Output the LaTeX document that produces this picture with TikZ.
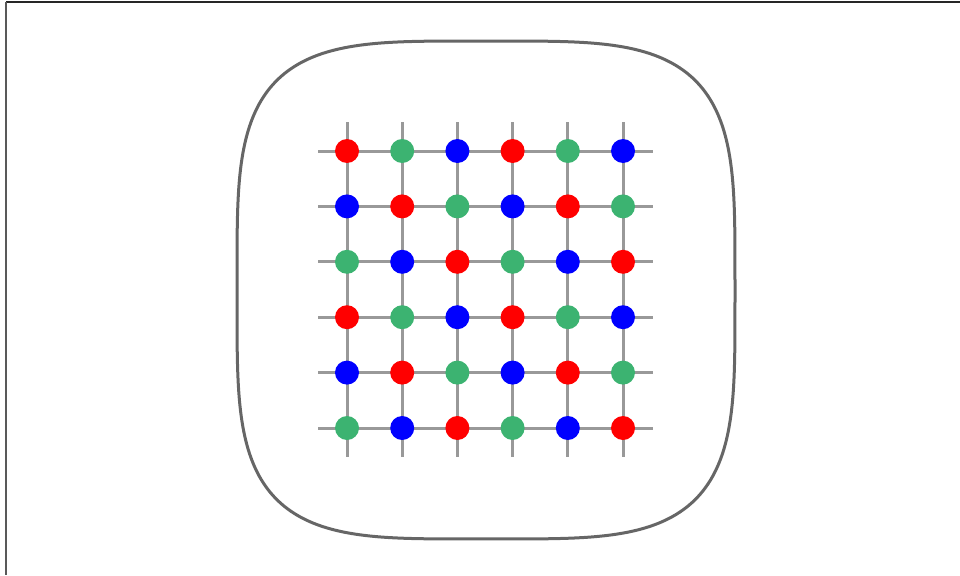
\documentclass[tikz,border=0pt]{standalone}
\begin{document}
\begin{tikzpicture}[x=1pt,y=-1pt,
  gridline/.style={draw=black!40, line width=3pt},
  dot/.style={circle, inner sep=0pt, minimum size=24pt},
  frameline/.style={draw=black!60, line width=3pt}]
\definecolor{dotR}{RGB}{255,0,0}
\definecolor{dotG}{RGB}{60,179,113}
\definecolor{dotB}{RGB}{0,0,255}
\useasboundingbox (0,0) rectangle (960,575);
\draw[black!85, line width=1.5pt] (6,2) -- (960,2);
\draw[black!65, line width=2pt] (6,2) -- (6,575);
% squircle
\draw[frameline] plot[domain=0:360, samples=240, smooth]
  ({486+249*sign(cos(\x))*sqrt(abs(cos(\x)))}, {290+249*sign(sin(\x))*sqrt(abs(sin(\x)))}) -- cycle;
% grid
\foreach \i in {0,...,5} {
  \draw[gridline] ({347+55.2*\i},122) -- ({347+55.2*\i},457);
  \draw[gridline] (318,{151+55.4*\i}) -- (653,{151+55.4*\i});
}
\foreach \r in {0,...,5} {
  \foreach \c in {0,...,5} {
    \pgfmathtruncatemacro{\k}{mod(\c-\r+6,3)}
    \ifcase\k \def\col{dotR}\or \def\col{dotG}\else \def\col{dotB}\fi
    \node[dot, fill=\col] (d-\r-\c) at ({347+55.2*\c},{151+55.4*\r}) {};
  }
}
\end{tikzpicture}
\end{document}
